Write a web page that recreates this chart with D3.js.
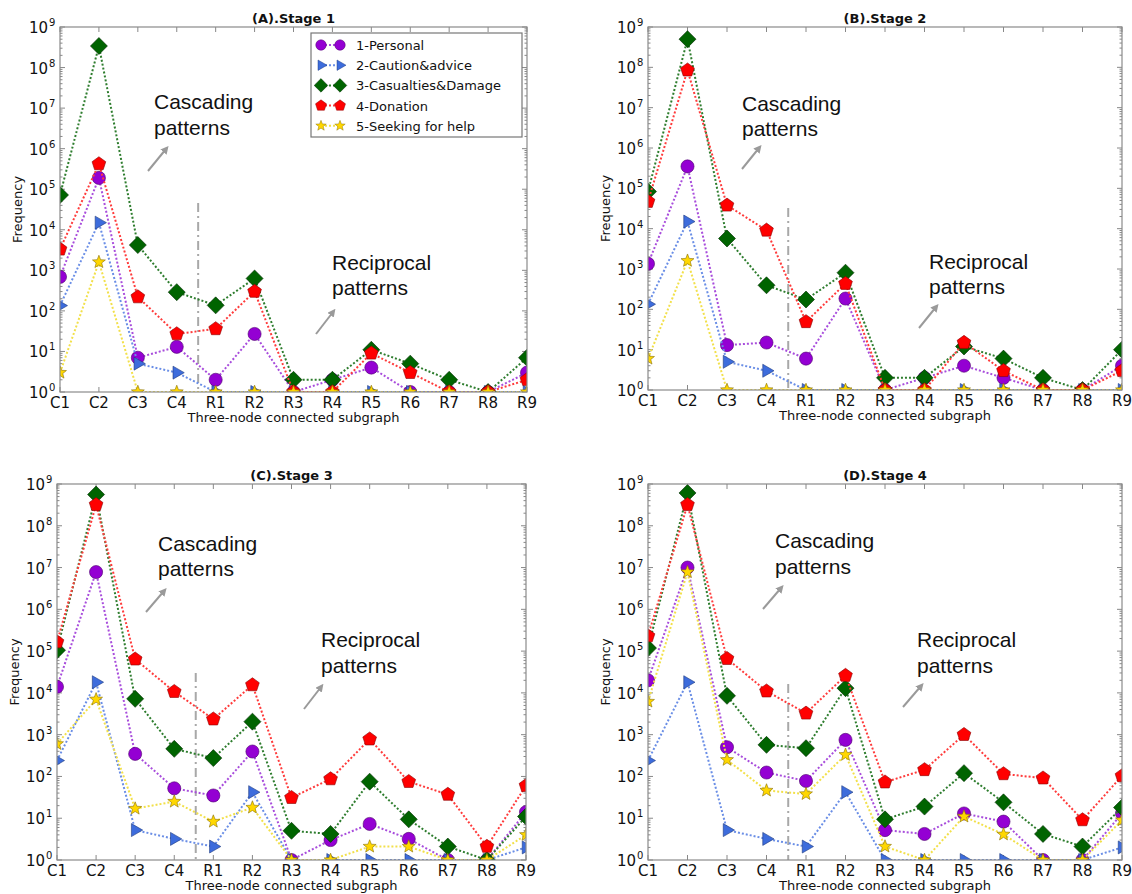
<!DOCTYPE html>
<html>
<head>
<meta charset="utf-8">
<script src="https://cdn.jsdelivr.net/npm/d3@7"></script>
<style>
  body { margin: 0; background: #fff; }
  svg { display: block; }
  .tick-label { font-family: "DejaVu Sans", sans-serif; font-size: 14px; fill: #111; }
  .note { font-family: "Liberation Sans", Arial, sans-serif; font-size: 21px; fill: #111; }
</style>
</head>
<body>
<svg id="chart" width="1132" height="894"></svg>
<script>
// categories and labels
const categories = ["C1", "C2", "C3", "C4", "R1", "R2", "R3", "R4", "R5", "R6", "R7", "R8", "R9"];
const seriesLabels = ["1-Personal", "2-Caution&advice", "3-Casualties&Damage", "4-Donation", "5-Seeking for help"];
const stageTitles = ["(A).Stage 1", "(B).Stage 2", "(C).Stage 3", "(D).Stage 4"];
const yTickExponents = [0, 1, 2, 3, 4, 5, 6, 7, 8, 9];

// stage 1
const personal1   = [690, 1.9e5, 7, 13, 2, 27, 1, 2, 4, 1, 1, 1, 3];
const caution1    = [135, 1.5e4, 5, 3, 1, 1, 1, 1, 1, 1, 1, 1, 1];
const casualties1 = [7.2e4, 3.4e8, 4200, 290, 137, 630, 2, 2, 11, 5, 2, 1, 7];
const donation1   = [3300, 4.2e5, 220, 27, 36, 300, 1, 1, 9, 3, 1, 1, 2];
const seeking1    = [3, 1600, 1, 1, 1, 1, 1, 1, 1, 1, 1, 1, 1];
// stage 2
const personal2   = [1350, 3.5e5, 13, 15, 6, 185, 1, 2, 4, 2, 1, 1, 4];
const caution2    = [134, 1.5e4, 5, 3, 1, 1, 1, 1, 1, 1, 1, 1, 1];
const casualties2 = [8.3e4, 5e8, 5700, 395, 175, 810, 2, 2, 12, 6, 2, 1, 10];
const donation2   = [4.7e4, 8.5e7, 3.8e4, 9100, 49, 435, 1, 1, 15, 3, 1, 1, 3];
const seeking2    = [6, 1600, 1, 1, 1, 1, 1, 1, 1, 1, 1, 1, 1];
// stage 3
const personal3   = [1.4e4, 7.8e6, 347, 52, 35, 395, 1, 3, 7.3, 3.2, 1, 1, 14];
const caution3    = [240, 1.8e4, 5.2, 3.2, 2.1, 42, 1, 1, 1, 1, 1, 1, 2];
const casualties3 = [1.05e5, 5.6e8, 7200, 457, 275, 2050, 5, 4.2, 75, 9.4, 2.1, 1, 11];
const donation3   = [1.65e5, 3.2e8, 6.4e4, 1.07e4, 2350, 1.55e4, 31, 87, 780, 75, 37, 2.1, 60];
const seeking3    = [600, 7000, 17, 25, 8.3, 18, 1, 1, 2.1, 2.1, 1, 1, 4];
// stage 4
const personal4   = [2e4, 1e7, 500, 124, 78, 750, 5.2, 4.2, 13, 8.3, 1, 1, 13];
const caution4    = [240, 1.8e4, 5.2, 3.2, 2.1, 42, 1, 1, 1, 1, 1, 1, 2];
const casualties4 = [1.18e5, 6.1e8, 8500, 570, 475, 1.3e4, 9.4, 19, 120, 24, 4.2, 2.1, 18];
const donation4   = [2.3e5, 3.2e8, 6.6e4, 1.1e4, 3250, 2.6e4, 73, 144, 1000, 115, 91, 9.1, 103];
const seeking4    = [6200, 7.8e6, 250, 46, 38, 330, 2.1, 1, 11, 4.1, 1, 1, 9];

const stageData = [
  [personal1, caution1, casualties1, donation1, seeking1],
  [personal2, caution2, casualties2, donation2, seeking2],
  [personal3, caution3, casualties3, donation3, seeking3],
  [personal4, caution4, casualties4, donation4, seeking4]
];

// styling per series
const fills   = ["#9400D3", "#3d6cdc", "#006400", "#ff0000", "#ffd700"];
const lines   = ["#a84ddc", "#6a8ee6", "#2e7d2e", "#ff3b3b", "#f2e04a"];
const edges   = ["#4b006b", "#1e3a80", "#002a00", "#8a0000", "#8a7000"];

function polyPath(pts) {
  return "M" + pts.map(p => p[0].toFixed(2) + "," + p[1].toFixed(2)).join("L") + "Z";
}
function ngon(n, r, rot) {
  const pts = [];
  for (let i = 0; i < n; i++) {
    const a = rot + i * 2 * Math.PI / n;
    pts.push([r * Math.cos(a), r * Math.sin(a)]);
  }
  return pts;
}
function star(r, ri) {
  const pts = [];
  for (let i = 0; i < 10; i++) {
    const a = -Math.PI / 2 + i * Math.PI / 5;
    const rr = i % 2 === 0 ? r : ri;
    pts.push([rr * Math.cos(a), rr * Math.sin(a)]);
  }
  return pts;
}
const markerPaths = [
  d3.symbol(d3.symbolCircle, 135)(),
  polyPath(ngon(3, 7.5, 0)),
  polyPath([[0, -8.5], [8.5, 0], [0, 8.5], [-8.5, 0]]),
  polyPath(ngon(5, 7.2, -Math.PI / 2)),
  polyPath(star(6.8, 2.9))
];

const svg = d3.select("#chart");
const defs = svg.append("defs");
defs.append("marker")
  .attr("id", "arrowhead")
  .attr("viewBox", "0 0 10 10")
  .attr("refX", 5).attr("refY", 5)
  .attr("markerWidth", 4).attr("markerHeight", 4)
  .attr("orient", "auto")
  .append("path").attr("d", "M0,0L10,5L0,10Z").attr("fill", "#9a9a9a");

// panel boxes and annotation offsets (px, relative to the plot's left/top)
const panels = [
  { left: 60,  right: 527,  top: 27,  bottom: 392,
    casc: [94, 75, 101], cascArrow: [88, 144, 106, 122],
    reci: [272, 236, 261], reciArrow: [256, 307, 273, 285], divTop: 176, legend: true },
  { left: 648, right: 1122, top: 27,  bottom: 390,
    casc: [94, 77, 102], cascArrow: [94, 142, 111, 121],
    reci: [281, 235, 260], reciArrow: [271, 301, 288, 280], divTop: 181, legend: false },
  { left: 57,  right: 526,  top: 484, bottom: 860,
    casc: [101, 60, 85], cascArrow: [89, 128, 107, 107],
    reci: [264, 156, 182], reciArrow: [247, 225, 264, 203], divTop: 189, legend: false },
  { left: 648, right: 1122, top: 484, bottom: 860,
    casc: [127, 57, 83], cascArrow: [115, 125, 133, 104],
    reci: [269, 156, 182], reciArrow: [255, 223, 273, 202], divTop: 200, legend: false }
];

panels.forEach((p, pi) => {
  const x = d3.scaleLinear().domain([0, categories.length - 1]).range([p.left, p.right]);
  const y = d3.scaleLog().domain([1, 1e9]).range([p.bottom, p.top]);
  const g = svg.append("g");
  const clipId = "clip" + pi;
  defs.append("clipPath").attr("id", clipId)
    .append("rect").attr("x", p.left).attr("y", p.top)
    .attr("width", p.right - p.left).attr("height", p.bottom - p.top);

  // minor/major ticks (inward, all sides)
  const tickG = g.append("g").attr("stroke", "#888").attr("stroke-width", 1);
  yTickExponents.forEach(e => {
    const yy = y(Math.pow(10, e));
    tickG.append("line").attr("x1", p.left).attr("x2", p.left + 5).attr("y1", yy).attr("y2", yy);
    tickG.append("line").attr("x1", p.right).attr("x2", p.right - 5).attr("y1", yy).attr("y2", yy);
    if (e < 9) {
      for (let k = 2; k < 10; k++) {
        const ym = y(k * Math.pow(10, e));
        tickG.append("line").attr("x1", p.left).attr("x2", p.left + 2.5).attr("y1", ym).attr("y2", ym);
        tickG.append("line").attr("x1", p.right).attr("x2", p.right - 2.5).attr("y1", ym).attr("y2", ym);
      }
    }
  });
  categories.forEach((c, i) => {
    tickG.append("line").attr("x1", x(i)).attr("x2", x(i)).attr("y1", p.bottom).attr("y2", p.bottom - 5);
    tickG.append("line").attr("x1", x(i)).attr("x2", x(i)).attr("y1", p.top).attr("y2", p.top + 5);
  });

  // y tick labels 10^n
  yTickExponents.forEach(e => {
    g.append("text").attr("class", "tick-label")
      .attr("x", p.left - 12).attr("y", y(Math.pow(10, e)) + 6)
      .attr("text-anchor", "end").style("font-size", "15px").text("10");
    g.append("text").attr("class", "tick-label")
      .attr("x", p.left - 11).attr("y", y(Math.pow(10, e)) - 1)
      .style("font-size", "10px").text(e);
  });
  // x tick labels
  categories.forEach((c, i) => {
    g.append("text").attr("class", "tick-label")
      .attr("x", x(i)).attr("y", p.bottom + 16)
      .attr("text-anchor", "middle").style("font-size", "15px").text(c);
  });

  // axis titles
  g.append("text").attr("class", "tick-label")
    .attr("x", (p.left + p.right) / 2).attr("y", p.bottom + 30)
    .attr("text-anchor", "middle").style("font-size", "13px")
    .text("Three-node connected subgraph");
  g.append("text").attr("class", "tick-label")
    .attr("transform", "translate(" + (p.left - 38) + "," + ((p.top + p.bottom) / 2) + ") rotate(-90)")
    .attr("text-anchor", "middle").style("font-size", "13px")
    .text("Frequency");
  g.append("text").attr("class", "tick-label")
    .attr("x", (p.left + p.right) / 2).attr("y", p.top - 4)
    .attr("text-anchor", "middle").style("font-size", "13px").style("font-weight", "bold")
    .text(stageTitles[pi]);

  // divider between cascading and reciprocal
  g.append("line")
    .attr("x1", x(3.55)).attr("x2", x(3.55))
    .attr("y1", p.top + p.divTop).attr("y2", p.bottom)
    .attr("stroke", "#a8a8a8").attr("stroke-width", 2)
    .attr("stroke-dasharray", "9,4,2,4");

  // annotations
  [["Cascading", p.casc[1]], ["patterns", p.casc[2]]].forEach(d => {
    g.append("text").attr("class", "note").attr("x", p.left + p.casc[0]).attr("y", p.top + d[1] + 7).text(d[0]);
  });
  [["Reciprocal", p.reci[1]], ["patterns", p.reci[2]]].forEach(d => {
    g.append("text").attr("class", "note").attr("x", p.left + p.reci[0]).attr("y", p.top + d[1] + 7).text(d[0]);
  });
  [p.cascArrow, p.reciArrow].forEach(a => {
    g.append("line")
      .attr("x1", p.left + a[0]).attr("y1", p.top + a[1])
      .attr("x2", p.left + a[2]).attr("y2", p.top + a[3])
      .attr("stroke", "#9a9a9a").attr("stroke-width", 2)
      .attr("marker-end", "url(#arrowhead)");
  });

  // series
  const plotG = g.append("g").attr("clip-path", "url(#" + clipId + ")");
  const line = d3.line().x((d, i) => x(i)).y(d => y(d));
  stageData[pi].forEach((vals, si) => {
    plotG.append("path").datum(vals)
      .attr("d", line).attr("fill", "none")
      .attr("stroke", lines[si]).attr("stroke-width", 2)
      .attr("stroke-dasharray", "2,2");
    plotG.selectAll(null).data(vals).enter().append("path")
      .attr("d", markerPaths[si])
      .attr("transform", (d, i) => "translate(" + x(i) + "," + y(d) + ")")
      .attr("fill", fills[si]).attr("stroke", edges[si]).attr("stroke-width", 0.6);
  });

  // frame
  g.append("rect").attr("x", p.left).attr("y", p.top)
    .attr("width", p.right - p.left).attr("height", p.bottom - p.top)
    .attr("fill", "none").attr("stroke", "#8a8a8a").attr("stroke-width", 1.2);

  // legend
  if (p.legend) {
    const lx = 311, ly = 33, lw = 211, lh = 104;
    const lg = g.append("g");
    lg.append("rect").attr("x", lx).attr("y", ly).attr("width", lw).attr("height", lh)
      .attr("fill", "#fff").attr("stroke", "#777").attr("stroke-width", 1.2);
    seriesLabels.forEach((lab, si) => {
      const yy = ly + 12 + si * 20.2;
      lg.append("line").attr("x1", 321).attr("x2", 340).attr("y1", yy).attr("y2", yy)
        .attr("stroke", lines[si]).attr("stroke-width", 2).attr("stroke-dasharray", "2,2");
      [321, 340].forEach(mx => {
        lg.append("path").attr("d", markerPaths[si])
          .attr("transform", "translate(" + mx + "," + yy + ") scale(0.8)")
          .attr("fill", fills[si]).attr("stroke", edges[si]).attr("stroke-width", 0.6);
      });
      lg.append("text").attr("class", "tick-label").style("font-size", "13px")
        .attr("x", 356).attr("y", yy + 5).text(lab);
    });
  }
});
</script>
</body>
</html>
